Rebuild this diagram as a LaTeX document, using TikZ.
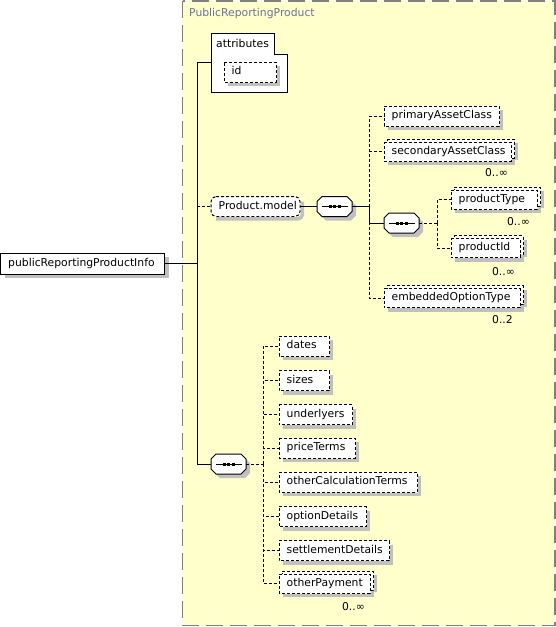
\documentclass[tikz,border=0pt]{standalone}
\usepackage{fontspec}
\setmainfont{DejaVu Sans}
\definecolor{bgyellow}{RGB}{255,255,204}
\definecolor{bordergray}{RGB}{128,128,128}
\definecolor{shadowgray}{RGB}{192,192,192}
\definecolor{titlecol}{RGB}{105,115,155}
\tikzset{
  every node/.style={font=\fontsize{10.8}{12}\selectfont},
  lbl/.style={inner xsep=7.5pt, inner ysep=0pt, text height=8pt, text depth=2.5pt, anchor=west},
  optline/.style={fill=white, draw=black, line width=1pt, dash pattern=on 3pt off 2pt},
  reqline/.style={fill=white, draw=black, line width=1pt, solid},
  seqnode/.style={minimum width=35pt, minimum height=20pt, inner sep=0pt},
  shadowfill/.style={fill=shadowgray, draw=none},
  shadowstroke/.style={draw=shadowgray, line width=3.5pt, solid, line join=miter, line cap=butt},
  conn/.style={draw=black, line width=1pt},
  dconn/.style={conn, dash pattern=on 3pt off 2pt},
  mult/.style={anchor=east, inner sep=0pt}
}
% element box: line style, name, x (left), y (centre), width, height, text
\newcommand\elem[7]{%
  \filldraw[#1] (#3,{#4-#6/2}) -- ({#3+#5},{#4-#6/2}) -- ({#3+#5},{#4+#6/2}) -- (#3,{#4+#6/2}) -- cycle;
  \draw[shadowstroke] ({#3+#5+2.25},{#4-#6/2+4}) -- ({#3+#5+2.25},{#4+#6/2+2.25}) -- ({#3+4},{#4+#6/2+2.25});
  \node[lbl] (#2) at (#3,#4) {#7};}
% repeated element: name, x, y, width, height, text
\newcommand\multel[6]{%
  \filldraw[optline] ({#2+3},{#3-#5/2-3}) -- ({#2+#4+3},{#3-#5/2-3}) -- ({#2+#4+3},{#3+#5/2-3}) -- ({#2+3},{#3+#5/2-3}) -- cycle;
  \filldraw[optline] (#2,{#3-#5/2}) -- ({#2+#4},{#3-#5/2}) -- ({#2+#4},{#3+#5/2}) -- (#2,{#3+#5/2}) -- cycle;
  \draw[shadowstroke] ({#2+#4+5.25},{#3-#5/2+1}) -- ({#2+#4+5.25},{#3+#5/2-0.75});
  \draw[shadowstroke] ({#2+#4+2.25},{#3+#5/2-2.5}) -- ({#2+#4+2.25},{#3+#5/2+2.25}) -- ({#2+4},{#3+#5/2+2.25});
  \node[lbl] (#1) at (#2,#3) {#6};}
% sequence compositor symbol: name, x, y (centre)
\newcommand\seqsym[3]{%
  \fill[shadowfill] ({#2-8.5},{#3-6}) -- ({#2+16.5},{#3-6}) -- ({#2+21.5},{#3-1}) -- ({#2+21.5},{#3+9})
    -- ({#2+16.5},{#3+14}) -- ({#2-8.5},{#3+14}) -- ({#2-13.5},{#3+9}) -- ({#2-13.5},{#3-1}) -- cycle;
  \filldraw[fill=white, draw=black, line width=1pt]
    ({#2-12.5},{#3-10}) -- ({#2+12.5},{#3-10}) -- ({#2+17.5},{#3-5}) -- ({#2+17.5},{#3+5})
    -- ({#2+12.5},{#3+10}) -- ({#2-12.5},{#3+10}) -- ({#2-17.5},{#3+5}) -- ({#2-17.5},{#3-5}) -- cycle;
  \node[seqnode] (#1) at (#2,#3) {};
  \draw[line width=1pt] ({#2-13},#3) -- ({#2+13},#3);
  \foreach \dx in {-4.5,0,4.5}{\fill ({#2+\dx-1.5},{#3-1.5}) rectangle ++(3,3);}
}
\begin{document}
\begin{tikzpicture}[x=1pt,y=-1pt]
\useasboundingbox (0,0) rectangle (556,627);
% container
\draw[fill=bgyellow, draw=bordergray, line width=1.5pt, dash pattern=on 17pt off 7pt]
  (182.5,0.75) rectangle (555,625.5);
\node[anchor=west, inner sep=0pt, text=titlecol] (title) at (189,13.5) {PublicReportingProduct};
% attributes
\filldraw[fill=white, draw=black, line width=1pt]
  (211,33) -- (274.5,33) -- (274.5,54) -- (287,54) -- (287,92) -- (211,92) -- cycle;
\node[anchor=west, inner sep=0pt] (attrlbl) at (216,43.5) {attributes};
\coordinate (attrL) at (211,62);
\elem{optline}{id}{224}{72}{52}{20}{id}
% root element
\elem{reqline}{pub}{0.5}{263.5}{164}{21}{publicReportingProductInfo}
% group ref
\filldraw[optline, rounded corners=5pt] (211,196.5) -- (300,196.5) -- (300,216.5) -- (211,216.5) -- cycle;
\draw[shadowstroke, rounded corners=4pt] (302.25,201.5) -- (302.25,218.75) -- (216,218.75);
\node[lbl] (pm) at (211,206.5) {Product.model};
\coordinate (pmE) at (300,206.5);
\seqsym{seqA}{334.5}{206.5}
\seqsym{seqB}{401.5}{223}
\seqsym{seqC}{228.5}{464}
% children of seqA
\elem{optline}{pac}{384}{116}{115}{20}{primaryAssetClass}
\multel{sac}{384}{151.5}{127}{19}{secondaryAssetClass}
\multel{ptype}{451}{199.5}{86}{19}{productType}
\multel{pid}{451}{248}{69}{19}{productId}
\multel{eot}{384}{298}{136}{19}{embeddedOptionType}
% children of seqC
\elem{optline}{dates}{279}{346}{50}{20}{dates}
\elem{optline}{sizes}{279}{380.5}{50}{20}{sizes}
\elem{optline}{und}{279}{414.5}{73}{20}{underlyers}
\elem{optline}{pt}{279}{448}{76}{20}{priceTerms}
\elem{optline}{oct}{279}{482}{138}{20}{otherCalculationTerms}
\elem{optline}{od}{279}{516.5}{87}{20}{optionDetails}
\elem{optline}{sd}{279}{550.5}{110}{20}{settlementDetails}
\multel{op}{279}{583.5}{91}{19}{otherPayment}
% multiplicities
\node[mult] (m1) at (508,173) {0..∞};
\node[mult] (m2) at (530,222) {0..∞};
\node[mult] (m3) at (515,272) {0..∞};
\node[mult] (m4) at (513,320) {0..2};
\node[mult] (m5) at (365,607) {0..∞};
% junctions
\coordinate (jTop) at (197,62);
\coordinate (pubE) at (164.5,263.5);
\coordinate (jPub) at (197,263.5);
\coordinate (jPM) at (197,206.5);
\coordinate (jBot) at (197,464);
\coordinate (v1) at (369,206.5);
\coordinate (v2) at (437,223);
\coordinate (v3) at (263,464);
% connectors
\draw[conn] (pubE) -- (jPub);
\draw[conn] (jTop) -- (jBot);
\draw[conn] (jTop) -- (attrL);
\draw[dconn] (jPM) -- (pm.west);
\draw[conn] (pmE) -- (seqA.west);
\draw[dconn] (v1) |- (pac.west);
\draw[dconn] (v1) |- (sac.west);
\draw[dconn] (v1) |- (eot.west);
\draw[conn] (seqA.east) -- (v1) |- (seqB.west);
\draw[dconn] (seqB.east) -- (v2);
\draw[dconn] (v2) |- (ptype.west);
\draw[dconn] (v2) |- (pid.west);
\draw[conn] (jBot) -- (seqC.west);
\draw[dconn] (seqC.east) -- (v3);
\foreach \n in {dates,sizes,und,pt,oct,od,sd,op}{\draw[dconn] (v3) |- (\n.west);}
\end{tikzpicture}
\end{document}
